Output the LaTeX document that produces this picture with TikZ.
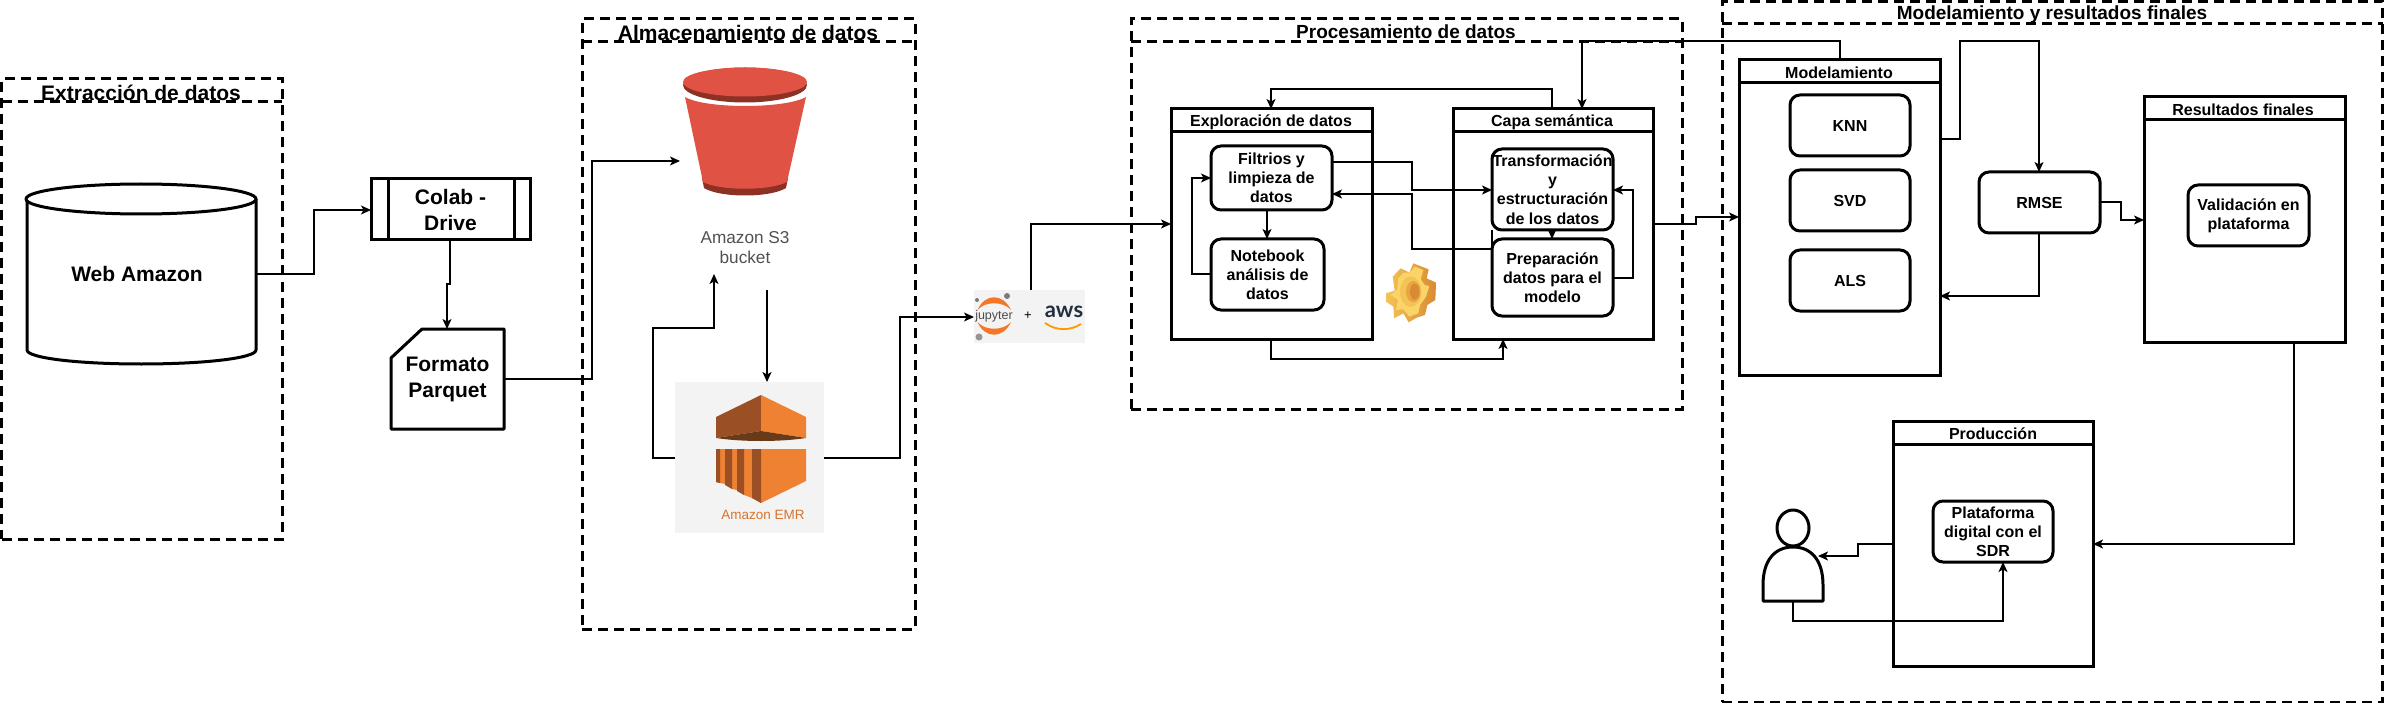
\documentclass[tikz,border=0pt]{standalone}
\usepackage{fontspec}
\setmainfont{Liberation Sans}
\newfontfamily\lat{Lato}
\usetikzlibrary{arrows.meta,calc}
\definecolor{s3red}{HTML}{E05243}
\definecolor{s3dark}{HTML}{8C3123}
\definecolor{emro}{HTML}{EE8132}
\definecolor{emrd}{HTML}{9A5024}
\definecolor{emrb}{HTML}{683A17}
\definecolor{imgbg}{HTML}{F3F3F3}
\definecolor{awsnavy}{HTML}{232F3E}
\definecolor{awsor}{HTML}{FF9900}
\definecolor{jupor}{HTML}{F37726}
\definecolor{jupgr}{HTML}{7B7B7B}
\definecolor{gearA}{HTML}{FBD467}
\definecolor{gearB}{HTML}{F4C355}
\definecolor{gearC}{HTML}{D98B33}
\definecolor{gearD}{HTML}{E8A544}
\tikzset{
  dashbox/.style={draw=black,line width=3pt,dash pattern=on 10pt off 6pt},
  dashline/.style={line width=3pt,dash pattern=on 10pt off 6pt},
  lane/.style={draw=black,line width=3pt,fill=white},
  laneline/.style={line width=3pt},
  rbox/.style={draw=black,line width=3pt,rounded corners=10pt,fill=white,font=\fontsize{16}{19.2}\selectfont\bfseries,align=center},
  ghost/.style={font=\fontsize{21}{26}\selectfont\bfseries,align=center},
  shapeline/.style={line width=3pt,line join=round},
  bigtitle/.style={font=\fontsize{21}{25}\selectfont\bfseries,inner sep=0pt},
  midtitle/.style={font=\fontsize{19}{23}\selectfont\bfseries,inner sep=0pt},
  lanetitle/.style={font=\fontsize{16}{19}\selectfont\bfseries,inner sep=0pt},
  conn/.style={line width=1.1pt,-{Stealth[length=10pt,width=9pt,inset=2.5pt]}},
}
\newcommand{\mkbox}[7][]{%
  \pgfmathsetmacro{\bw}{#5-#3}\pgfmathsetmacro{\bh}{#6-#4}%
  \node[#2,outer sep=0pt,inner sep=0pt,anchor=north west,minimum width=\bw pt,minimum height=\bh pt,#1] at (#3,#4) #7;}
\begin{document}
\begin{tikzpicture}[x=1pt,y=-1pt]
\useasboundingbox (0,0) rectangle (2384,703);
\fill[white] (0,0) rectangle (2384,703);
% dashed groups
\mkbox{dashbox}{1.5}{79}{282}{539}{(ext) {}}
\draw[dashline] (ext.west |- 0,102) -- (ext.east |- 0,102);
\node[bigtitle] (extT) at (141,93) {Extracción de datos};
\mkbox{dashbox}{582}{19}{915}{629}{(alm) {}}
\draw[dashline] (alm.west |- 0,42) -- (alm.east |- 0,42);
\node[bigtitle] (almT) at (748,33) {Almacenamiento de datos};
\mkbox{dashbox}{1131}{19}{1682}{409}{(pro) {}}
\draw[dashline] (pro.west |- 0,42) -- (pro.east |- 0,42);
\node[midtitle] (proT) at (1406,32) {Procesamiento de datos};
\mkbox{dashbox}{1722}{1.5}{2382.5}{702}{(mod) {}}
\draw[dashline] (mod.west |- 0,24) -- (mod.east |- 0,24);
\node[midtitle] (modT) at (2052,15) {Modelamiento y resultados finales};
% cylinder
\draw[shapeline,fill=white] (27,199) -- (27,350) .. controls (27,358) and (78,364) .. (141,364) .. controls (205,364) and (256,358) .. (256,350) -- (256,199);
\draw[shapeline,fill=white] (141,199) ellipse [x radius=115,y radius=15];
\node[inner sep=0pt,outer sep=0pt,minimum width=229pt,minimum height=180pt,anchor=north west] (cyl) at (27,184) {};
\node[ghost,inner sep=0pt] (cylT) at (137,274) {Web Amazon};
% colab
\mkbox[lane]{}{371}{179}{530}{240}{(colab) {}}
\draw[laneline] (388,0 |- colab.north) -- (388,0 |- colab.south);
\draw[laneline] (514,0 |- colab.north) -- (514,0 |- colab.south);
\node[ghost] (colabT) at (colab.center) {Colab -\\Drive};
% card
\draw[shapeline,fill=white] (422,329) -- (504,329) -- (504,429) -- (391,429) -- (391,358) -- cycle;
\mkbox[ghost]{}{391}{329}{504}{429}{(fmt) {Formato\\Parquet}}
% S3
\fill[s3dark] (745,85) ellipse [x radius=62,y radius=17.5];
\fill[s3red] (745,82) ellipse [x radius=62,y radius=14.5];
\fill[s3dark] (702,178) -- (788,178) -- (786,188) .. controls (770,198) and (720,198) .. (704,188) -- cycle;
\fill[s3red] (685,97) .. controls (705,109) and (785,109) .. (806,97) -- (787,182) .. controls (770,191) and (720,191) .. (703,182) -- cycle;
\node[inner sep=0pt,outer sep=0pt,minimum width=130pt,minimum height=212pt,anchor=north west] (s3) at (680,62) {};
\node[font=\fontsize{17.2}{20}\selectfont,text=black!68,align=center,inner sep=0pt] (s3T) at (745,248) {Amazon S3\\bucket};
\coordinate (s3out) at (767,290);
% EMR
\mkbox[fill=imgbg]{}{675}{382}{824}{533}{(emr) {}}
\fill[emrd] (761,395) -- (716,417) -- (716,438) -- (761,431) -- cycle;
\fill[emro] (761,395) -- (806,417) -- (806,438) -- (761,431) -- cycle;
\fill[emrb] (716,438) -- (761,431) -- (806,438) .. controls (780,442) and (742,442) .. (716,438) -- cycle;
\fill[emro] (716,449) -- (806,449) -- (806,481) -- (761,503) -- (752,498) -- (744,495) -- (737,490) -- (732,489) -- (725,484) -- (716,482) -- cycle;
\fill[emrd] (716,449) -- (720,449) -- (720,483) -- (716,482) -- cycle;
\fill[emrd] (725,449) -- (732,449) -- (732,489) -- (725,485) -- cycle;
\fill[emrd] (737,449) -- (744,449) -- (744,495) -- (737,491) -- cycle;
\fill[emrd] (752,449) -- (761,449) -- (761,503) -- (752,498) -- cycle;
\node[font=\fontsize{13.5}{15}\selectfont,text=emro!90!black,inner sep=0pt] (emrT) at (763,515) {Amazon EMR};
% jupyter + aws
\mkbox[fill=imgbg]{}{974}{290}{1085}{343}{(jup) {}}
\fill[jupor] (977.5,310) .. controls (985,293) and (1003,293) .. (1011,310) .. controls (1003,301) and (985,301) .. cycle;
\fill[jupor] (977.5,322) .. controls (985,339) and (1003,339) .. (1011,322) .. controls (1003,331) and (985,331) .. cycle;
\fill[jupgr] (1007,296) circle (3);
\fill[jupgr] (977,300) circle (2);
\fill[jupgr!80] (979,337) circle (3.5);
\node[font=\fontsize{12.5}{14}\selectfont,text=black!70,inner sep=0pt] (jupT) at (994,316) {jupyter};
\node[font=\fontsize{13}{14}\selectfont,inner sep=0pt] (plusT) at (1028,316) {+};
\node[font=\lat\bfseries\fontsize{22}{23}\selectfont,text=awsnavy,inner sep=0pt] (awsT) at (1064,312) {aws};
\draw[awsor,line width=1.8pt] (1045,323) .. controls (1056,331) and (1070,331) .. (1081,324);
% swimlanes
\mkbox[lane]{}{1171}{109}{1372}{339}{(exp) {}}
\draw[laneline] (exp.west |- 0,132) -- (exp.east |- 0,132);
\node[lanetitle] (expT) at (1271,122) {Exploración de datos};
\mkbox[lane]{}{1453}{109}{1653}{339}{(cap) {}}
\draw[laneline] (cap.west |- 0,132) -- (cap.east |- 0,132);
\node[lanetitle] (capT) at (1552,122) {Capa semántica};
\mkbox[lane]{}{1739}{60}{1940}{375}{(mdl) {}}
\draw[laneline] (mdl.west |- 0,83) -- (mdl.east |- 0,83);
\node[lanetitle] (mdlT) at (1839,73) {Modelamiento};
\mkbox[lane]{}{2144}{97}{2345}{342}{(res) {}}
\draw[laneline] (res.west |- 0,120) -- (res.east |- 0,120);
\node[lanetitle] (resT) at (2243,110) {Resultados finales};
\mkbox[lane]{}{1893}{421}{2093}{666}{(prd) {}}
\draw[laneline] (prd.west |- 0,444) -- (prd.east |- 0,444);
\node[lanetitle] (prdT) at (1993,434) {Producción};
% rounded boxes
\mkbox{rbox}{1211}{146}{1332}{210}{(fil) {Filtrios y\\limpieza de\\datos}}
\mkbox{rbox}{1211}{239}{1324}{310}{(nb) {Notebook\\análisis de\\datos}}
\mkbox{rbox}{1492}{149}{1613}{230}{(tra) {Transformación\\y\\estructuración\\de los datos}}
\mkbox{rbox}{1492}{239}{1613}{316}{(pre) {Preparación\\datos para el\\modelo}}
\mkbox{rbox}{1790}{95}{1910}{156}{(knn) {KNN}}
\mkbox{rbox}{1790}{170}{1910}{231}{(svd) {SVD}}
\mkbox{rbox}{1790}{250}{1910}{311}{(als) {ALS}}
\mkbox{rbox}{1979}{172}{2100}{233}{(rmse) {RMSE}}
\mkbox{rbox}{2188}{185}{2309}{246}{(val) {Validación en\\plataforma}}
\mkbox{rbox}{1933}{501}{2053}{562}{(pla) {Plataforma\\digital con el\\SDR}}
% gear
\begin{scope}[shift={(1370,250)},x=.3333pt,y=-.3333pt]
\shade[left color=gearB,right color=gearC] (130,40) -- (176,58) -- (170,85) -- (198,98) -- (196,150) -- (172,165) -- (165,195) -- (140,203) -- (116,217) -- (100,190) -- (72,205) -- (70,170) -- (48,155) -- (48,130) -- (74,122) -- (68,80) -- (92,55) -- (118,68) -- cycle;
\fill[gearA] (118,68) -- (135,50) -- (160,60) -- (152,88) -- (164,105) -- (178,108) -- (168,140) -- (150,165) -- (145,190) -- (118,200) -- (100,178) -- (78,180) -- (84,150) -- (62,135) -- (82,118) -- (85,85) -- (100,68) -- cycle;
\fill[gearB] (122,125) ellipse [x radius=32,y radius=46];
\fill[gearD] (130,125) ellipse [x radius=22,y radius=32];
\fill[gearC] (134,125) ellipse [x radius=14,y radius=24];
\end{scope}
% actor
\draw[shapeline,fill=white] (1763,601) -- (1763,585) .. controls (1763,560) and (1775,547) .. (1793,547) .. controls (1811,547) and (1823,560) .. (1823,585) -- (1823,601) -- cycle;
\draw[shapeline,fill=white] (1793,528) ellipse [x radius=16,y radius=18];
\node[inner sep=0pt,outer sep=0pt,minimum width=60pt,minimum height=91pt,anchor=north west] (act) at (1763,510) {};
% connectors
\draw[conn] (cyl.east) -- (314,274) -- (314,210) -- (colab.west |- 0,210);
\draw[conn] (450,0 |- colab.south) -- (450,284) -- (447,284) -- (447,0 |- fmt.north);
\draw[conn] (fmt.east) -- (592,379) -- (592,161) -- (s3.west |- 0,161);
\draw[conn] (s3out) -- (767,0 |- emr.north);
\draw[conn] (emr.west |- 0,458) -- (653,458) -- (653,328) -- (714,328) -- (714,0 |- s3.south);
\draw[conn] (emr.east |- 0,458) -- (900,458) -- (900,317) -- (jup.west |- 0,317);
\draw[conn] (1031,0 |- jup.north) -- (1031,224) -- (exp.west |- 0,224);
\draw[conn] (1552,0 |- cap.north) -- (1552,89) -- (1271,89) -- (1271,0 |- exp.north);
\draw[conn] (1840,0 |- mdl.north) -- (1840,41) -- (1582,41) -- (1582,0 |- cap.north);
\draw[conn] (fil.east |- 0,162) -- (1412,162) -- (1412,190) -- (tra.west |- 0,190);
\draw[conn] (tra.west |- 0,230) -- (1492,249) -- (1412,249) -- (1412,194) -- (fil.east |- 0,194);
\draw[conn] (1267,0 |- fil.south) -- (1267,0 |- nb.north);
\draw[conn] (nb.west |- 0,274) -- (1192,274) -- (1192,178) -- (fil.west |- 0,178);
\draw[conn] (1552,0 |- tra.south) -- (1552,0 |- pre.north);
\draw[conn] (pre.east |- 0,278) -- (1633,278) -- (1633,190) -- (tra.east |- 0,190);
\draw[conn] (1271,0 |- exp.south) -- (1271,359) -- (1503,359) -- (1503,0 |- cap.south);
\draw[conn] (cap.east |- 0,224) -- (1696,224) -- (1696,217) -- (mdl.west |- 0,217);
\draw[conn] (mdl.east |- 0,139) -- (1960,139) -- (1960,41) -- (2039,41) -- (2039,0 |- rmse.north);
\draw[conn] (2039,0 |- rmse.south) -- (2039,296) -- (mdl.east |- 0,296);
\draw[conn] (rmse.east |- 0,202) -- (2121,202) -- (2121,220) -- (res.west |- 0,220);
\draw[conn] (2294,0 |- res.south) -- (2294,544) -- (prd.east |- 0,544);
\draw[conn] (prd.west |- 0,544) -- (1858,544) -- (1858,556) -- (1818,556);
\draw[conn] (1793,0 |- act.south) -- (1793,621) -- (2003,621) -- (2003,0 |- pla.south);
\end{tikzpicture}
\end{document}
